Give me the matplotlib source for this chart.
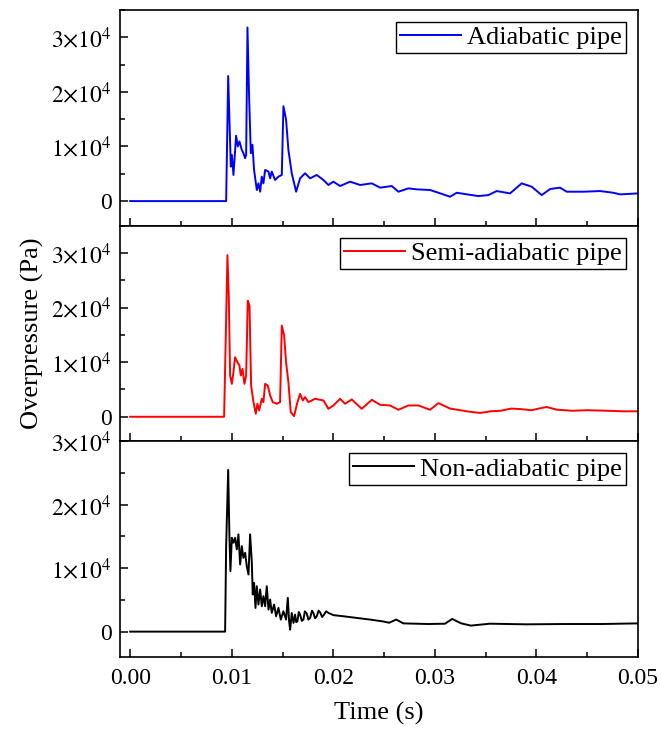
import numpy as np
import matplotlib
matplotlib.use("Agg")
import matplotlib.pyplot as plt
from matplotlib.ticker import FuncFormatter, MultipleLocator, FormatStrFormatter

plt.rcParams["font.family"] = ["Liberation Serif", "DejaVu Serif"]
plt.rcParams["mathtext.fontset"] = "stix"

# time in ms, overpressure in Pa
t_adiabatic = [0, 9.45, 9.65, 9.91, 10.01, 10.17, 10.43, 10.6, 10.76, 10.99, 11.15, 11.32,
               11.42, 11.55, 11.71, 11.88, 12.04, 12.2, 12.47, 12.63, 12.8, 12.96, 13.12,
               13.29, 13.62, 13.78, 13.94, 14.27, 14.6, 14.93, 15.09, 15.35, 15.58, 15.91,
               16.34, 16.73, 17.22, 17.72, 18.37, 19.03, 19.52, 20.01, 20.67, 21.65, 22.64,
               23.79, 24.61, 25.76, 26.41, 27.39, 28.22, 29.53, 30.35, 31.5, 32.15, 32.97,
               34.28, 35.27, 36.09, 37.4, 38.55, 39.53, 40.52, 41.34, 42.32, 42.98, 44.62,
               46.26, 47.57, 48.23, 50.0]
p_adiabatic = [0, 0, 22900, 6320, 8470, 4790, 11970, 10010, 10930, 9390, 8780, 7860,
               8470, 31800, 19220, 8780, 10320, 5710, 2030, 3250, 1720, 4480, 3250,
               5710, 5400, 4170, 5400, 3870, 4480, 4790, 17380, 14920, 9390, 5100,
               1720, 4170, 5100, 4170, 4790, 3870, 2950, 3560, 2760, 3560, 2950,
               3250, 2460, 2760, 1720, 2330, 2150, 2030, 1530, 800, 1530, 1290,
               920, 1100, 1840, 1410, 3250, 2640, 1100, 2210, 2460, 1720, 1720,
               1840, 1530, 1230, 1410]

t_semi = [0, 9.25, 9.58, 9.71, 9.84, 10.01, 10.17, 10.33, 10.56, 10.76, 10.89, 11.06,
          11.25, 11.42, 11.58, 11.75, 11.91, 12.14, 12.37, 12.53, 12.7, 12.96, 13.12,
          13.29, 13.55, 13.78, 14.04, 14.44, 14.76, 14.93, 15.16, 15.35, 15.58, 15.81,
          16.14, 16.47, 16.73, 17.0, 17.22, 17.55, 18.21, 19.03, 19.52, 20.01, 20.67,
          21.16, 21.82, 22.8, 23.79, 24.61, 25.59, 26.41, 27.39, 28.38, 29.53, 30.35,
          31.5, 32.5, 33.5, 34.5, 35.5, 36.5, 37.5, 38.5, 39.5, 40.5, 41.0, 42.0,
          43.5, 45.0, 47.0, 48.5, 50.0]
p_semi = [0, 0, 29600, 22170, 7560, 6030, 8170, 10910, 10000, 9380, 7560, 8770,
          6030, 7560, 21260, 20350, 5720, 2680, 550, 2380, 1160, 3290, 2680,
          6030, 5720, 3900, 2680, 2380, 2680, 16700, 14870, 10000, 6340, 850,
          120, 2680, 4200, 2990, 3600, 2680, 3290, 2990, 1460, 2070, 3290,
          2380, 3170, 1460, 3110, 2200, 2070, 1280, 2070, 2070, 1280, 2500,
          1500, 1200, 900, 700, 1000, 1100, 1500, 1400, 1200, 1600, 1800, 1300,
          1100, 1200, 1100, 1000, 1000]

t_non = [0, 9.35, 9.45, 9.65, 9.78, 9.87, 10.01, 10.17, 10.33, 10.5, 10.66, 10.83,
         10.99, 11.15, 11.32, 11.48, 11.65, 11.81, 11.98, 12.07, 12.2, 12.34, 12.47,
         12.63, 12.8, 12.96, 13.12, 13.29, 13.45, 13.62, 13.78, 13.94, 14.17, 14.37,
         14.6, 14.83, 15.09, 15.35, 15.52, 15.65, 15.75, 15.91, 16.08, 16.24, 16.35,
         16.47, 16.6, 16.73, 16.9, 17.06, 17.2, 17.39, 17.55, 17.72, 17.9, 18.04,
         18.2, 18.37, 18.55, 18.7, 18.9, 19.09, 19.3, 19.52, 20.01, 21.0,
         22.31, 23.62, 24.93, 25.5, 26.2, 26.9, 29.35, 31.0, 31.7, 32.6, 33.55,
         35.4, 39.0, 42.7, 46.4, 50.0]
p_non = [0, 0, 13480, 25490, 14540, 9530, 14800, 14010, 14800, 12960, 15330, 10590,
         13480, 11640, 12430, 10320, 9010, 15330, 10850, 5850, 7690, 3740, 7160,
         4270, 6640, 4000, 5580, 4000, 7160, 3480, 5060, 2950, 4270, 2420,
         3740, 1900, 3210, 1900, 5320, 1630, 320, 2950, 1370, 2690, 1500,
         1630, 3100, 2690, 1700, 1900, 3200, 2840, 1900, 2160, 3300, 2950,
         2100, 2420, 3300, 3060, 2300, 2690, 3200, 2950, 2600, 2420,
         2160, 1900, 1600, 1400, 1900, 1300, 1200, 1250, 2000, 1300, 950,
         1250, 1150, 1200, 1200, 1300]

series = [
    (t_adiabatic, p_adiabatic, "#0000ff", "Adiabatic pipe", (-4500, 35000)),
    (t_semi, p_semi, "#ff0000", "Semi-adiabatic pipe", (-4500, 35000)),
    (t_non, p_non, "#000000", "Non-adiabatic pipe", (-4000, 30000)),
]

fig = plt.figure(figsize=(6.61, 7.38), dpi=100)
left, right = 120 / 661, 638 / 661
top, bottom = 1 - 10 / 738, 1 - 657 / 738
h = (top - bottom) / 3

def ytick(v, pos):
    if v == 0:
        return "0"
    return r"$%d{\times}10^{4}$" % round(v / 1e4)

for i, (t, p, color, label, ylim) in enumerate(series):
    ax = fig.add_axes([left, top - (i + 1) * h, right - left, h])
    ax.plot(np.array(t) / 1000, p, color=color, lw=1.4, label=label)
    ax.set_xlim(-0.001, 0.05)
    ax.set_ylim(*ylim)
    ax.xaxis.set_major_locator(MultipleLocator(0.01))
    ax.xaxis.set_minor_locator(MultipleLocator(0.005))
    ax.yaxis.set_major_locator(MultipleLocator(10000))
    ax.yaxis.set_minor_locator(MultipleLocator(5000))
    ax.yaxis.set_major_formatter(FuncFormatter(ytick))
    ax.xaxis.set_major_formatter(FormatStrFormatter("%.2f"))
    ax.tick_params(which="both", direction="in", width=1.1, labelsize=17)
    ax.tick_params(which="major", length=6)
    ax.tick_params(which="minor", length=3.5)
    ax.tick_params(axis="x", pad=8)
    ax.tick_params(axis="y", pad=6)
    for s in ax.spines.values():
        s.set_linewidth(1.2)
    if i < 2:
        ax.tick_params(labelbottom=False)
    else:
        ax.set_xlabel("Time (s)", fontsize=19, labelpad=9)
    leg = ax.legend(loc="upper right", fontsize=19, frameon=True, fancybox=False,
                    edgecolor="black", framealpha=1, handlelength=2.3,
                    handletextpad=0.25, borderpad=0.15, borderaxespad=0.45)
    leg.get_frame().set_linewidth(1.0)

fig.text(32 / 661, 1 - 333 / 738, "Overpressure (Pa)", rotation=90,
         fontsize=19, ha="center", va="center")

fig.savefig("out.png", dpi=100)
